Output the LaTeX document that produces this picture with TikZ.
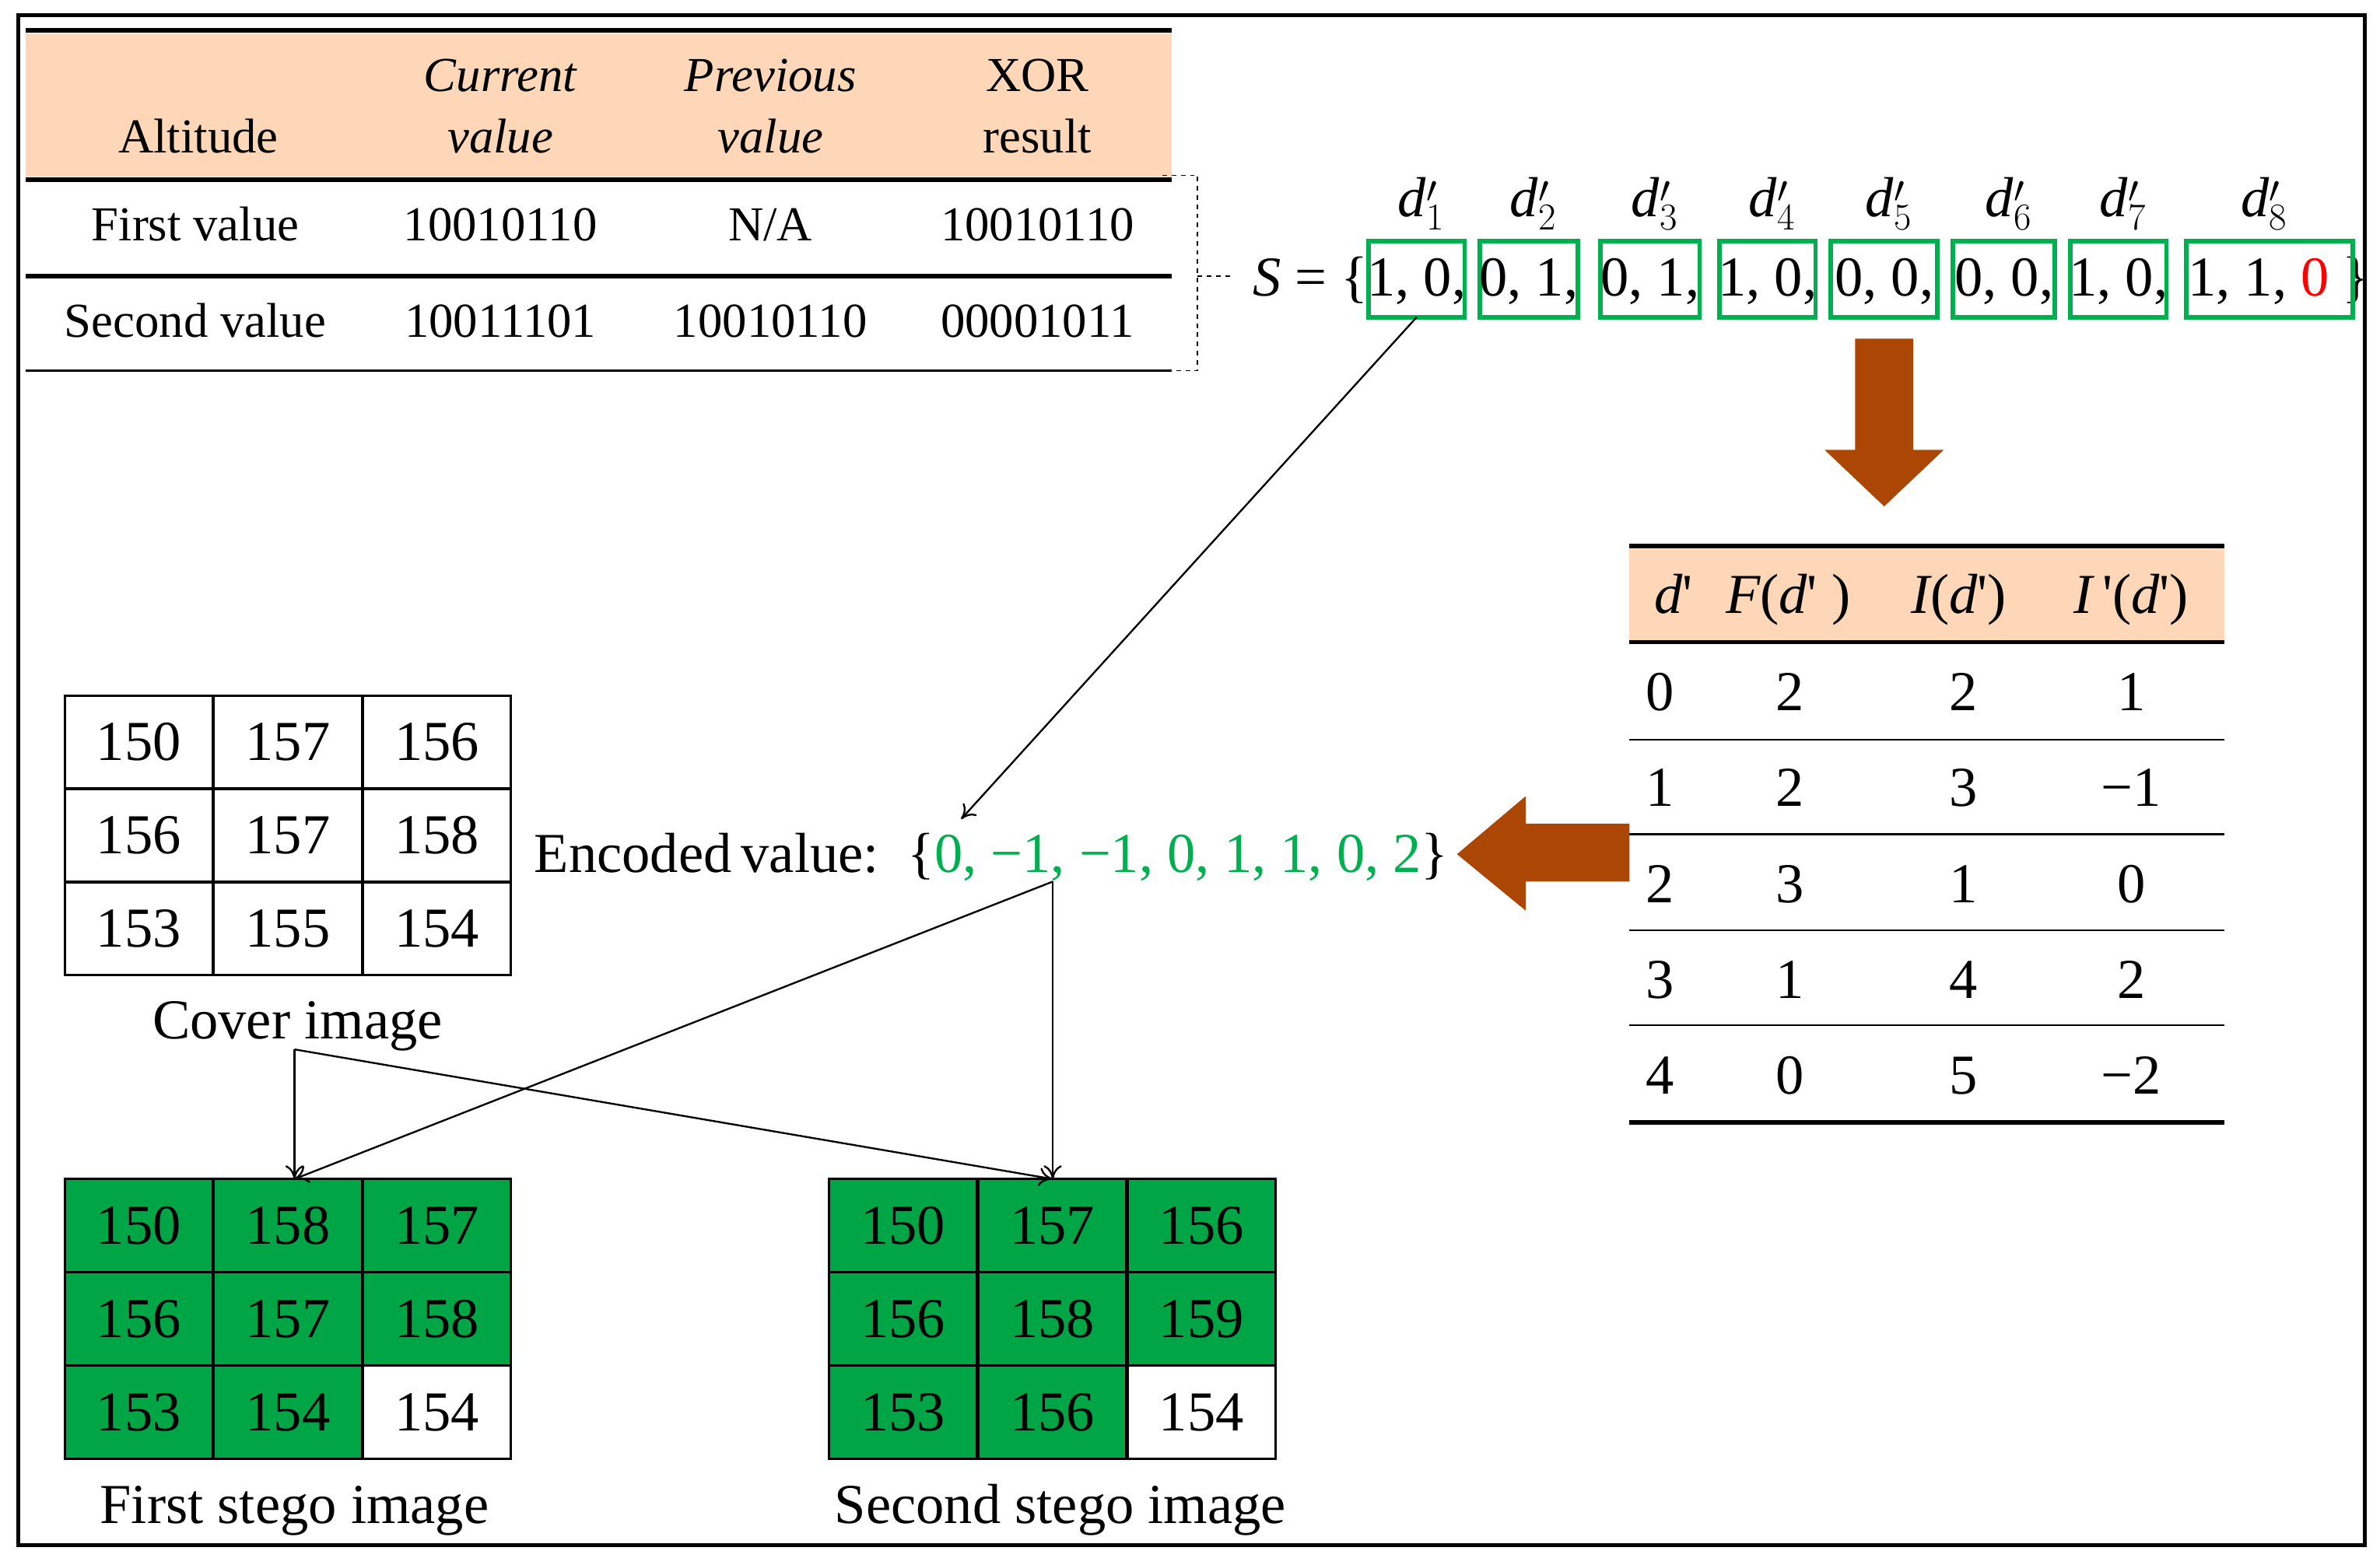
\documentclass[tikz,border=0pt]{standalone}
\usepackage{fontspec}
\setmainfont{Liberation Serif}
\usetikzlibrary{arrows.meta}
\definecolor{peach}{RGB}{253,215,183}
\definecolor{gbox}{RGB}{0,176,80}
\definecolor{gfill}{RGB}{0,166,70}
\definecolor{rust}{RGB}{172,70,4}
\newcommand{\pr}{{\upshape\textquotesingle}}
\begin{document}
\begin{tikzpicture}[x=1pt,y=-1pt,
  t/.style={font=\fontsize{32}{36}\selectfont,inner sep=0pt,anchor=base},
  b/.style={font=\fontsize{37}{40}\selectfont,inner sep=0pt,anchor=base},
  thk/.style={line width=3pt},
  thn/.style={line width=1.2pt},
  arr/.style={-{To[length=9pt,width=12pt]},line width=1.2pt},
  cell/.style={draw,line width=1.5pt,minimum width=97pt,minimum height=61pt,inner sep=0pt,font=\fontsize{37}{40}\selectfont}]
\useasboundingbox (0,0) rectangle (1560,1026);
\draw[line width=2.5pt] (12,10) rectangle (1550,1013);
% top table
\fill[peach] (17,22) rectangle (768,116);
\draw[thk] (17,20) -- (768,20);
\draw[thk] (17,118) -- (768,118);
\draw[thk] (17,181) -- (768,181);
\draw[thn] (17,243) -- (768,243);
\node[t] (h1) at (130,100) {Altitude};
\node[t] (h2a) at (328,60) {\itshape Current};
\node[t] (h2b) at (328,100) {\itshape value};
\node[t] (h3a) at (505,60) {\itshape Previous};
\node[t] (h3b) at (505,100) {\itshape value};
\node[t] (h4a) at (680,60) {XOR};
\node[t] (h4b) at (680,100) {result};
\node[t] (r1a) at (128,158) {First value};
\node[t] (r1b) at (328,158) {10010110};
\node[t] (r1c) at (505,158) {N/A};
\node[t] (r1d) at (680,158) {10010110};
\node[t] (r2a) at (128,221) {Second value};
\node[t] (r2b) at (328,221) {10011101};
\node[t] (r2c) at (505,221) {10010110};
\node[t] (r2d) at (680,221) {00001011};
\draw[dashed,line width=1pt] (762,115) -- (785,115) -- (785,243) -- (770,243);
\draw[dashed,line width=1pt] (785,181) -- (806,181);
% S set
\node[b,anchor=base east] (S) at (897,194) {\itshape S\upshape\ = \{};
\node[b,anchor=base west] (rb) at (1535,194) {\}};
\foreach \i/\xa/\xb/\txt in {1/897/960/{1, 0,},2/970/1034/{0, 1,},3/1049/1114/{0, 1,},4/1127/1190/{1, 0,},5/1200/1270/{0, 0,},6/1280/1347/{0, 0,},7/1357/1420/{1, 0,}}{
  \draw[gbox,line width=3pt] (\xa,158) rectangle (\xb,208);
  \coordinate (bx\i) at ({(\xa+\xb)/2},208);
  \node[b] (v\i) at ({(\xa+\xb)/2},194) {\txt};
  \node[b] (d\i) at ({(\xa+\xb)/2+3},142) {\itshape d$'_{\i}$};
}
\draw[gbox,line width=3pt] (1433,158) rectangle (1542,208);
\node[b,anchor=base west] (v8) at (1434,194) {1, 1, \textcolor{red}{0}};
\node[b] (d8) at (1484,142) {\itshape d$'_{8}$};
% down arrow
\fill[rust] (1216,222) -- (1254,222) -- (1254,295) -- (1274,295) -- (1235,332) -- (1196,295) -- (1216,295) -- cycle;
% right table
\fill[peach] (1068,360) rectangle (1458,420);
\draw[thk] (1068,358) -- (1458,358);
\draw[thk] (1068,421) -- (1458,421);
\foreach \yy in {485,547,610,672} \draw[thn] (1068,\yy) -- (1458,\yy);
\draw[thk] (1068,736) -- (1458,736);
\node[b] (th1) at (1097,402) {\itshape d\pr};
\node[b] (th2) at (1172,402) {\itshape F\upshape(\itshape d\pr\upshape\ )};
\node[b] (th3) at (1284,402) {\itshape I\upshape(\itshape d\pr\upshape)};
\node[b] (th4) at (1397,402) {\itshape I\,\pr\upshape(\itshape d\pr\upshape)};
\foreach \r/\a/\bb/\c/\d in {0/0/2/2/1,1/1/2/3/−1,2/2/3/1/0,3/3/1/4/2,4/4/0/5/−2}{
  \node[b] at (1088,{466+\r*62.8}) {\a};
  \node[b] at (1173,{466+\r*62.8}) {\bb};
  \node[b] at (1287,{466+\r*62.8}) {\c};
  \node[b] at (1397,{466+\r*62.8}) {\d};
}
% left arrow
\fill[rust] (1068,540) -- (1000,540) -- (1000,522) -- (955,560) -- (1000,597) -- (1000,578) -- (1068,578) -- cycle;
% encoded value
\node[b,anchor=base west] (enc) at (350,572) {Encoded\,value:\ \ \{\textcolor{gbox}{0, −1, −1, 0, 1, 1, 0, 2}\}};
\coordinate (encp) at (690,578);
\coordinate (enct) at (630,537);
\draw[arr] (bx1) -- (enct);
% grids
\foreach \gx/\gy/\vals/\fl [count=\g] in {42/456/{150,157,156,156,157,158,153,155,154}/0,42/773/{150,158,157,156,157,158,153,154,154}/1,543/773/{150,157,156,156,158,159,153,156,154}/1}{
  \foreach \v [count=\k from 0] in \vals {
    \pgfmathtruncatemacro\cc{mod(\k,3)}
    \pgfmathtruncatemacro\rr{div(\k,3)}
    \pgfmathsetmacro\fc{(\fl==1 && \k<8) ? 1 : 0}
    \ifdim\fc pt>0.5pt
      \node[cell,fill=gfill] (g\g c\k) at ({\gx+48.9+\cc*97.8},{\gy+30.5+\rr*61.2}) {\v};
    \else
      \node[cell,fill=white] (g\g c\k) at ({\gx+48.9+\cc*97.8},{\gy+30.5+\rr*61.2}) {\v};
    \fi
  }
}
\node[b] (cov) at (195,681) {Cover image};
\node[b] (fs) at (193,999) {First stego image};
\node[b] (ss) at (695,999) {Second stego image};
\coordinate (covp) at (193,688);
\coordinate (s1t) at (193,773);
\coordinate (s2t) at (690,773);
\draw[arr] (encp) -- (s2t);
\draw[arr] (encp) -- (s1t);
\draw[arr] (covp) -- (s1t);
\draw[arr] (covp) -- (s2t);
\end{tikzpicture}
\end{document}
